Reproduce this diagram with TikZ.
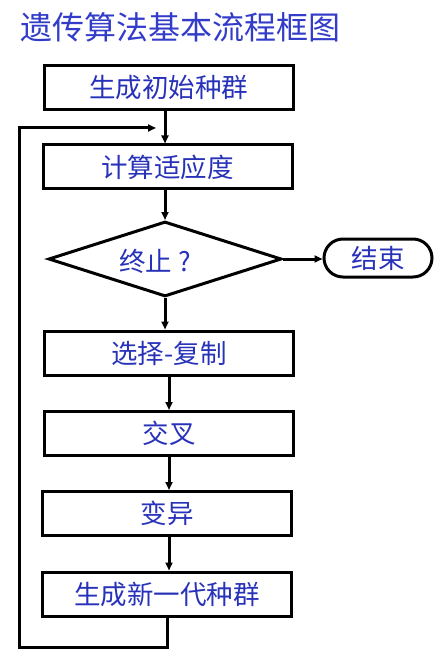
\documentclass[tikz,border=0pt]{standalone}
\usepackage{fontspec}
\setmainfont{Noto Sans CJK SC}
\usetikzlibrary{shapes.geometric,arrows.meta}
\definecolor{txt}{RGB}{40,50,185}
\definecolor{ttl}{RGB}{50,60,200}
\begin{document}
\begin{tikzpicture}[x=1pt,y=-1pt,
  box/.style={draw=black,line width=3pt,minimum width=249pt,minimum height=44pt,inner sep=0pt,text=txt,font=\fontsize{26.5}{26.5}\selectfont},
  arr/.style={line width=3pt,-{Triangle[length=8pt,width=7pt]}},
  lbl/.style={text=txt,font=\fontsize{26.5}{26.5}\selectfont,inner sep=0pt}]
\useasboundingbox (0,0) rectangle (435,652);
\node[text=ttl,font=\fontsize{32}{32}\selectfont,anchor=west,inner sep=0pt] (title) at (20,27) {遗传算法基本流程框图};
\node[box] (b1) at (168.5,88) {生成初始种群};
\node[box] (b2) at (167.5,167) {计算适应度};
\node[draw=black,line width=3pt,diamond,minimum width=233pt,minimum height=75pt,inner sep=0pt] (d) at (165,259) {};
\node[lbl] (dt) at (155,261) {终止 ?};
\node[draw=black,line width=3pt,rectangle,rounded corners=19pt,minimum width=108pt,minimum height=38pt,inner sep=0pt,text=txt,font=\fontsize{26.5}{26.5}\selectfont] (end) at (378,258) {结束};
\node[box] (b3) at (169,353) {选择-复制};
\node[box] (b4) at (169,433.5) {交叉};
\node[box] (b5) at (167,513.5) {变异};
\node[box] (b6) at (167,594) {生成新一代种群};
\coordinate (lp1) at (167,647);
\coordinate (lp2) at (19,647);
\coordinate (lp3) at (19,128);
\coordinate (lp4) at (156,128);
\draw[arr] (b1.south -| d.north) -- (b2.north -| d.north);
\draw[arr] (b2.south -| d.north) -- (d.north);
\draw[arr] (d.east) -- (d.east -| end.west);
\draw[arr] (d.south) -- (b3.north -| d.south);
\draw[arr] (b3.south) -- (b4.north);
\draw[arr] (b4.south) -- (b4.south |- b5.north);
\draw[arr] (b4.south |- b5.south) -- (b4.south |- b6.north);
\draw[arr,line join=miter] (b6.south) -- (lp1) -- (lp2) -- (lp3) -- (lp4);
\end{tikzpicture}
\end{document}
